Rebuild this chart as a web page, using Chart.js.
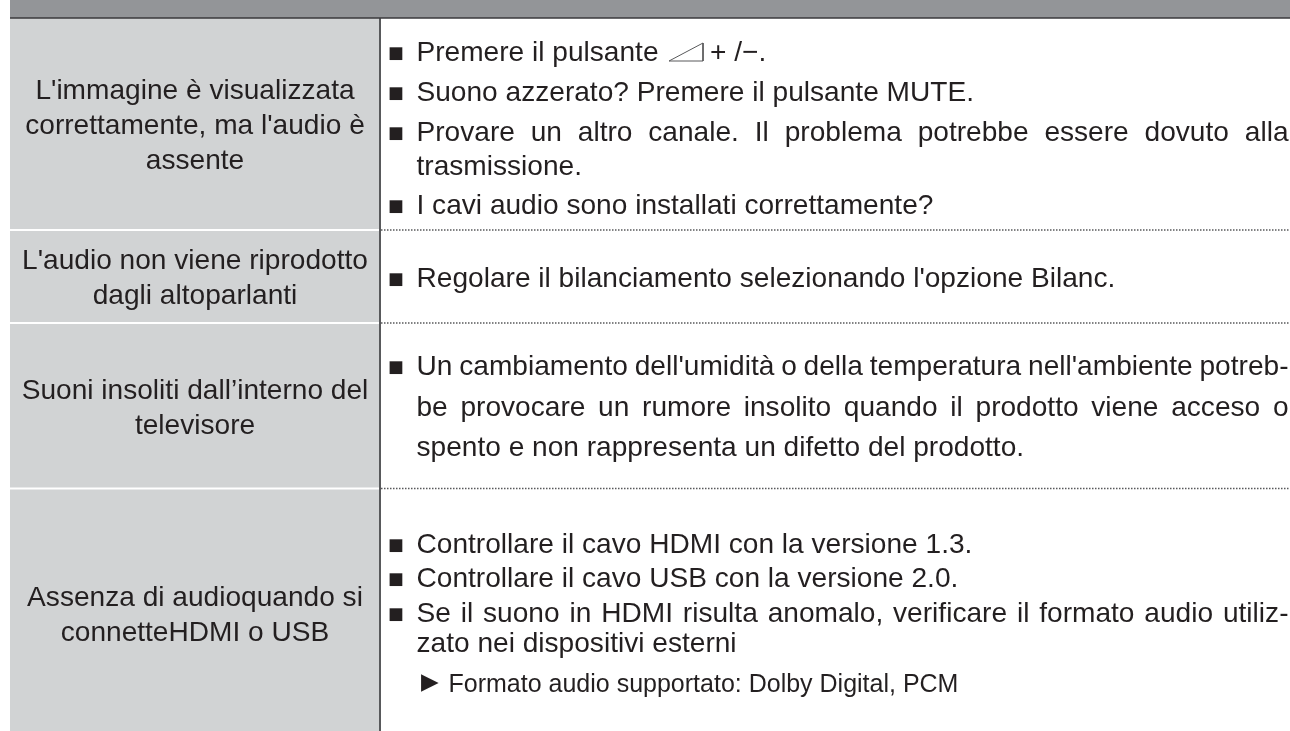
<!DOCTYPE html>
<html>
<head>
<meta charset="utf-8">
<style>
html, body { margin: 0; padding: 0; background: #ffffff; }
#wrap { position: relative; width: 1290px; height: 731px; }
</style>
<script src="https://cdn.jsdelivr.net/npm/chart.js@4"></script>
</head>
<body>
<div id="wrap"><canvas id="guideChart"></canvas></div>
<script>
// Row boundaries of the table (top to bottom)
const headerBottom = 18;
const rowSeparators = [230, 323, 488.5];
const pageBottom = 731;
const tableLeft = 10;
const columnSplit = 380;
const pageRight = 1290;

const problemLabels = [
    "L'immagine è visualizzata",
    "correttamente, ma l'audio è",
    "assente",
    "L'audio non viene riprodotto",
    "dagli altoparlanti",
    "Suoni insoliti dall’interno del",
    "televisore",
    "Assenza di audioquando si",
    "connetteHDMI o USB"
];
const problemBaselines = [99, 134, 169, 269, 304, 399, 434, 606, 641];

const bulletLines = [
    "Premere il pulsante",
    "Suono azzerato? Premere il pulsante MUTE.",
    "Provare un altro canale. Il problema potrebbe essere dovuto alla",
    "trasmissione.",
    "I cavi audio sono installati correttamente?",
    "Regolare il bilanciamento selezionando l'opzione Bilanc.",
    "Un cambiamento dell'umidità o della temperatura nell'ambiente potreb-",
    "be provocare un rumore insolito quando il prodotto viene acceso o",
    "spento e non rappresenta un difetto del prodotto.",
    "Controllare il cavo HDMI con la versione 1.3.",
    "Controllare il cavo USB con la versione 2.0.",
    "Se il suono in HDMI risulta anomalo, verificare il formato audio utiliz-",
    "zato nei dispositivi esterni",
    "Formato audio supportato: Dolby Digital, PCM"
];
const bulletBaselines = [61, 101, 141, 175, 214, 287, 375, 416, 456, 553, 587, 622, 652, 692];
const lineMarkers = ['■', '■', '■', '', '■', '■', '■', '', '', '■', '■', '■', '', '▶'];
const justifiedLines = [2, 6, 7, 11];
const volumeKeys = '+ /−.';
const volumeIconX = [669, 703, 703, 669];
const volumeIconY = [61, 43, 61, 61];

const headerColor = '#939598';
const headerRule = '#3a3a3c';
const problemFill = '#d1d3d4';
const inkColor = '#231f20';
const ruleColor = '#58595b';
const textFont = '"Liberation Sans"';
const markerFont = '"DejaVu Sans"';

function segment(x1, y1, x2, y2) {
    return [{ x: x1, y: y1 }, { x: x2, y: y2 }];
}

// Draws a glyph so that its ink box sits at x, with its bottom on baseline y
function inkText(ctx, text, x, y) {
    const m = ctx.measureText(text);
    ctx.fillText(text, x + m.actualBoundingBoxLeft, y - m.actualBoundingBoxDescent);
}

const tableText = {
    id: 'tableText',
    afterDatasetsDraw(chart) {
        const ctx = chart.ctx;
        const xs = chart.scales.x;
        const ys = chart.scales.y;
        ctx.save();
        ctx.fillStyle = inkColor;
        ctx.textBaseline = 'alphabetic';

        ctx.font = '28.1px ' + textFont;
        ctx.textAlign = 'center';
        problemLabels.forEach(function(text, i) {
            ctx.fillText(text, xs.getPixelForValue((tableLeft + columnSplit) / 2), ys.getPixelForValue(problemBaselines[i]));
        });

        ctx.textAlign = 'left';
        bulletLines.forEach(function(text, i) {
            const y = ys.getPixelForValue(bulletBaselines[i]);
            const sub = lineMarkers[i] === '▶';
            const textX = xs.getPixelForValue(sub ? 448.5 : 416.5);
            ctx.font = (sub ? '25px ' : '28.1px ') + textFont;
            ctx.wordSpacing = '0px';
            if (justifiedLines.includes(i)) {
                const gaps = text.split(' ').length - 1;
                const spare = xs.getPixelForValue(1288.5) - textX - ctx.measureText(text).width;
                ctx.wordSpacing = (spare / gaps) + 'px';
            }
            ctx.fillText(text, textX, y);
            ctx.wordSpacing = '0px';
            if (lineMarkers[i]) {
                ctx.font = (sub ? '23px ' : '16.7px ') + markerFont;
                inkText(ctx, lineMarkers[i], xs.getPixelForValue(sub ? 421 : 389.3), y);
            }
        });

        // volume keys after the icon on the first line
        ctx.font = '28.1px ' + textFont;
        ctx.fillText(volumeKeys, xs.getPixelForValue(710), ys.getPixelForValue(bulletBaselines[0]));
        ctx.restore();
    }
};

new Chart(document.getElementById('guideChart'), {
    type: 'scatter',
    data: {
        datasets: [
            {
                data: segment(tableLeft, 0, pageRight, 0),
                showLine: true,
                borderWidth: 0,
                pointRadius: 0,
                fill: { value: headerBottom },
                backgroundColor: headerColor
            },
            {
                data: segment(tableLeft, headerBottom, columnSplit, headerBottom),
                showLine: true,
                borderWidth: 0,
                pointRadius: 0,
                fill: { value: pageBottom },
                backgroundColor: problemFill
            },
            {
                data: segment(tableLeft, headerBottom, pageRight, headerBottom),
                showLine: true,
                borderColor: headerRule,
                borderWidth: 1.6,
                pointRadius: 0
            },
            {
                data: segment(columnSplit, headerBottom, columnSplit, pageBottom),
                showLine: true,
                borderColor: ruleColor,
                borderWidth: 2,
                pointRadius: 0
            },
            {
                data: volumeIconX.map(function(x, i) { return { x: x, y: volumeIconY[i] }; }),
                showLine: true,
                borderColor: ruleColor,
                borderWidth: 1,
                pointRadius: 0
            }
        ].concat(rowSeparators.map(function(y) {
            return [
                {
                    data: segment(tableLeft, y, columnSplit - 1, y),
                    showLine: true,
                    borderColor: '#ffffff',
                    borderWidth: 2,
                    pointRadius: 0
                },
                {
                    data: segment(columnSplit + 1, y, pageRight, y),
                    showLine: true,
                    borderColor: ruleColor,
                    borderWidth: 1.5,
                    borderDash: [1.5, 1.5],
                    pointRadius: 0
                }
            ];
        }).flat())
    },
    options: {
        responsive: true,
        maintainAspectRatio: false,
        animation: false,
        layout: { padding: 0 },
        plugins: {
            legend: { display: false },
            tooltip: { enabled: false },
            filler: { drawTime: 'beforeDatasetsDraw' }
        },
        scales: {
            x: { type: 'linear', display: false, min: 0, max: pageRight },
            y: { type: 'linear', display: false, min: 0, max: pageBottom, reverse: true }
        }
    },
    plugins: [tableText]
});
</script>
</body>
</html>
